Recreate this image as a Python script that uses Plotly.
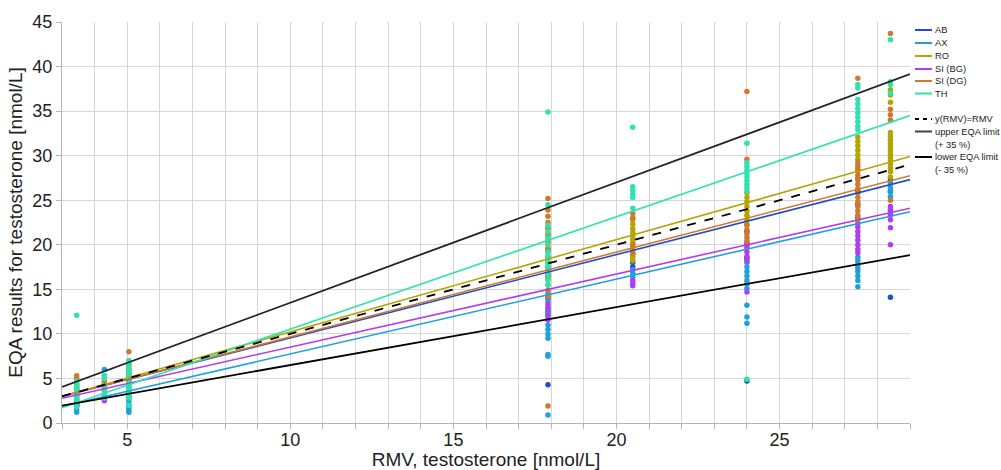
import plotly.graph_objects as go

# ---------------- data ----------------
rmv_levels = [3.45, 4.3, 5.05, 17.9, 20.5, 24.0, 27.4, 28.4]

series_names = ["AB", "AX", "RO", "SI (BG)", "SI (DG)", "TH"]
series_colors = ["#1f4fc6", "#1ea0dc", "#b3a600", "#b23cf2", "#d2782c", "#2ee3ad"]

ab_vals = [[3.2, 3.6, 2.6], [3.0, 3.8], [2.9, 3.4, 4.0],
           [4.3, 12.5, 14.0, 16.5, 17.5], [18.0, 19.0, 17.5],
           [4.7, 21.5, 20.0, 18.5], [26.0, 24.5, 23.0], [27.3, 14.1, 26.0]]
ax_vals = [[1.2, 1.5, 1.9, 2.2, 3.0], [6.0, 5.3, 3.2],
           [1.2, 1.5, 1.8, 2.1, 2.5, 6.5, 2.9],
           [0.9, 7.5, 7.7, 9.5, 10.0, 10.5, 11.0, 12.0, 12.3, 13.0, 13.6, 14.2, 14.6],
           [17.2, 16.8, 16.4],
           [18.0, 17.5, 17.0, 16.5, 16.0, 15.6, 15.1, 13.2, 11.9, 11.2],
           [18.6, 18.2, 17.8, 17.4, 17.0, 16.5, 16.0, 15.3],
           [26.9, 26.4, 25.9, 25.4, 24.0, 23.5]]
ro_vals = [[3.4, 3.9], [4.3, 4.6], [5.0, 5.4],
           [18.0, 19.5, 20.5, 21.2, 22.0],
           [22.8, 22.3, 21.8, 21.4, 21.0, 20.6, 20.2, 19.8, 19.4, 19.0, 18.6, 18.2],
           [25.8, 25.3, 24.8, 24.3, 23.8, 23.3, 22.8, 22.3],
           [32.1, 31.6, 31.1, 30.6, 30.1, 29.6, 28.5, 27.5],
           [37.4, 36.8, 36.0, 32.6, 32.2, 31.8, 31.4, 31.0, 30.6, 30.2, 29.8, 29.4,
            29.0, 28.6, 28.2, 27.6]]
sibg_vals = [[1.9, 2.1], [2.5, 2.7], [4.8, 5.2, 4.5],
             [11.6, 12.1, 12.8, 13.3, 18.6, 19.3],
             [16.0, 15.7, 15.4],
             [20.2, 19.7, 19.2, 18.7, 18.2, 14.7],
             [22.4, 22.0, 21.5, 21.0, 20.5, 20.0, 19.5, 19.1],
             [24.3, 23.8, 23.3, 22.8, 21.9, 20.0]]
sidg_vals = [[4.4, 4.7, 5.0, 5.3, 3.8, 4.1], [3.6, 4.0, 4.4, 4.8],
             [8.0, 6.5, 6.1, 5.8, 5.5, 4.6],
             [1.9, 25.2, 23.9, 23.2, 22.5, 21.8, 21.0, 20.2, 19.6, 16.8, 16.2, 15.5,
              14.9, 14.2],
             [23.5, 23.0, 20.0, 19.0],
             [37.2, 29.6, 22.2, 21.7, 21.2, 20.8, 20.4],
             [38.7, 29.2, 28.8, 28.3, 27.8, 27.3, 26.8, 26.3, 25.8, 25.3, 24.8, 24.3,
              23.8, 23.3, 22.8],
             [43.7, 35.2, 34.6, 34.0, 25.0]]
th_vals = [[1.8, 2.3, 2.7, 3.0, 3.3, 3.6, 4.0, 4.3, 4.7, 12.1],
           [2.8, 3.2, 3.6, 4.2, 5.0, 5.3],
           [2.8, 3.1, 3.4, 3.7, 4.0, 4.3, 4.6, 5.0, 5.3, 5.7, 6.1, 6.6, 7.0, 2.0],
           [34.9, 24.5, 22.2, 21.5, 20.8, 20.0, 19.2, 18.8, 18.4, 18.0, 17.6, 17.2,
            16.6, 16.0, 15.5],
           [33.2, 26.5, 26.1, 25.7, 25.3, 24.1],
           [31.4, 29.2, 28.8, 28.4, 28.0, 27.6, 27.2, 26.8, 26.4, 26.0, 4.9],
           [38.0, 37.6, 36.3, 35.8, 35.3, 34.8, 34.3, 33.8, 33.3, 32.9],
           [43.0, 38.3, 38.0, 37.0]]

# regression line parameters (slope, intercept)
reg_slopes = [0.935, 0.84, 1.036, 0.82, 0.952, 1.261]
reg_intercepts = [0.2, -0.65, -0.14, 0.32, 0.14, -2.07]

# reference lines (slope factor)
eqa_factors = [1.0, 1.35, 0.65]
eqa_names = ["y(RMV)=RMV", "upper EQA limit (+ 35 %)", "lower EQA limit (- 35 %)"]
eqa_colors = ["#000000", "#222222", "#000000"]
eqa_dash = ["dash", "solid", "solid"]

x_range = [3, 29]
y_range = [0, 45]

all_vals = [ab_vals, ax_vals, ro_vals, sibg_vals, sidg_vals, th_vals]

FONT = "Liberation Sans, Arial, sans-serif"

fig = go.Figure()

# scatter points
for name, color, vals in zip(series_names, series_colors, all_vals):
    xs, ys = [], []
    for lvl, group in zip(rmv_levels, vals):
        for v in group:
            xs.append(lvl)
            ys.append(v)
    fig.add_trace(go.Scatter(x=xs, y=ys, mode="markers", name=name,
                             marker=dict(size=5.5, color=color),
                             showlegend=False, hoverinfo="x+y"))

# regression lines
for name, color, a, b in zip(series_names, series_colors, reg_slopes, reg_intercepts):
    fig.add_trace(go.Scatter(x=x_range, y=[a * x + b for x in x_range], mode="lines",
                             name=name, line=dict(color=color, width=1.6),
                             showlegend=False))

# identity and EQA limit lines
for name, f, c, d in zip(eqa_names, eqa_factors, eqa_colors, eqa_dash):
    fig.add_trace(go.Scatter(x=x_range, y=[f * x for x in x_range], mode="lines",
                             name=name, line=dict(color=c, width=1.8, dash=d),
                             showlegend=False))

# ---------------- manual legend ----------------
PLOT_L, PLOT_R, PLOT_T, PLOT_B = 62, 910, 22, 423
W = PLOT_R - PLOT_L
H = PLOT_B - PLOT_T


def px(xp):
    return (xp - PLOT_L) / W


def py(yp):
    return (PLOT_B - yp) / H


LEG_FONT = dict(size=9.3, color="#222", family=FONT)
shapes = []
annotations = []
leg_line_x0, leg_line_x1, leg_text_x = 915, 932, 933
leg_items = [(n, c, "solid", yy) for n, c, yy in
             zip(series_names, series_colors, [30, 43, 56, 69, 81, 93.5])]
for n, c, d, yy in leg_items:
    shapes.append(dict(type="line", xref="paper", yref="paper",
                       x0=px(leg_line_x0), x1=px(leg_line_x1), y0=py(yy), y1=py(yy),
                       line=dict(color=c, width=2, dash=d)))
    annotations.append(dict(text=n, xref="paper", yref="paper", x=px(leg_text_x),
                            y=py(yy), xanchor="left", yanchor="middle",
                            showarrow=False, font=LEG_FONT))

ref_legend = [("y(RMV)=RMV", None, eqa_colors[0], "dash", 119),
              ("upper EQA limit", "(+ 35 %)", "#444444", "solid", 131.5),
              ("lower EQA limit", "(- 35 %)", eqa_colors[2], "solid", 157)]
for t1, t2, c, d, yy in ref_legend:
    shapes.append(dict(type="line", xref="paper", yref="paper",
                       x0=px(leg_line_x0), x1=px(leg_line_x1), y0=py(yy), y1=py(yy),
                       line=dict(color=c, width=2, dash="4px,4px" if d == "dash" else d)))
    annotations.append(dict(text=t1, xref="paper", yref="paper", x=px(leg_text_x),
                            y=py(yy), xanchor="left", yanchor="middle",
                            showarrow=False, font=LEG_FONT))
    if t2:
        annotations.append(dict(text=t2, xref="paper", yref="paper", x=px(leg_text_x),
                                y=py(yy + 13), xanchor="left", yanchor="middle",
                                showarrow=False, font=LEG_FONT))

fig.update_layout(
    width=1001, height=470,
    margin=dict(l=PLOT_L, r=1001 - PLOT_R, t=PLOT_T, b=470 - PLOT_B),
    paper_bgcolor="white", plot_bgcolor="white",
    font=dict(family=FONT, color="#222"),
    showlegend=False,
    shapes=shapes, annotations=annotations,
    xaxis=dict(range=x_range, tick0=0, dtick=5, showgrid=True, gridcolor="#d6d6d6",
               gridwidth=1, zeroline=False, showline=True, linecolor="#b5b5b5",
               ticks="outside", ticklen=5, tickcolor="#b5b5b5",
               ticklabelstandoff=-5,
               tickfont=dict(size=18, family=FONT, color="#222"),
               minor=dict(dtick=1, showgrid=True, gridcolor="#d6d6d6", ticks="outside",
                          ticklen=5, tickcolor="#b5b5b5"),
               title=dict(text="RMV, testosterone [nmol/L]", font=dict(size=19, family=FONT, color="#222"),
                          standoff=2),
               automargin=False),
    yaxis=dict(range=y_range, tick0=0, dtick=5, showgrid=True, gridcolor="#d6d6d6",
               gridwidth=1, zeroline=False, showline=True, linecolor="#b5b5b5",
               ticks="outside", ticklen=5, tickcolor="#b5b5b5",
               tickfont=dict(size=18, family=FONT, color="#222"),
               title=dict(text="EQA results for testosterone [nmol/L]",
                          font=dict(size=19, family=FONT, color="#222"), standoff=4),
               automargin=False),
)

fig.write_html("out.html", post_script="document.body.style.margin='0';",
               config={"displayModeBar": False})
